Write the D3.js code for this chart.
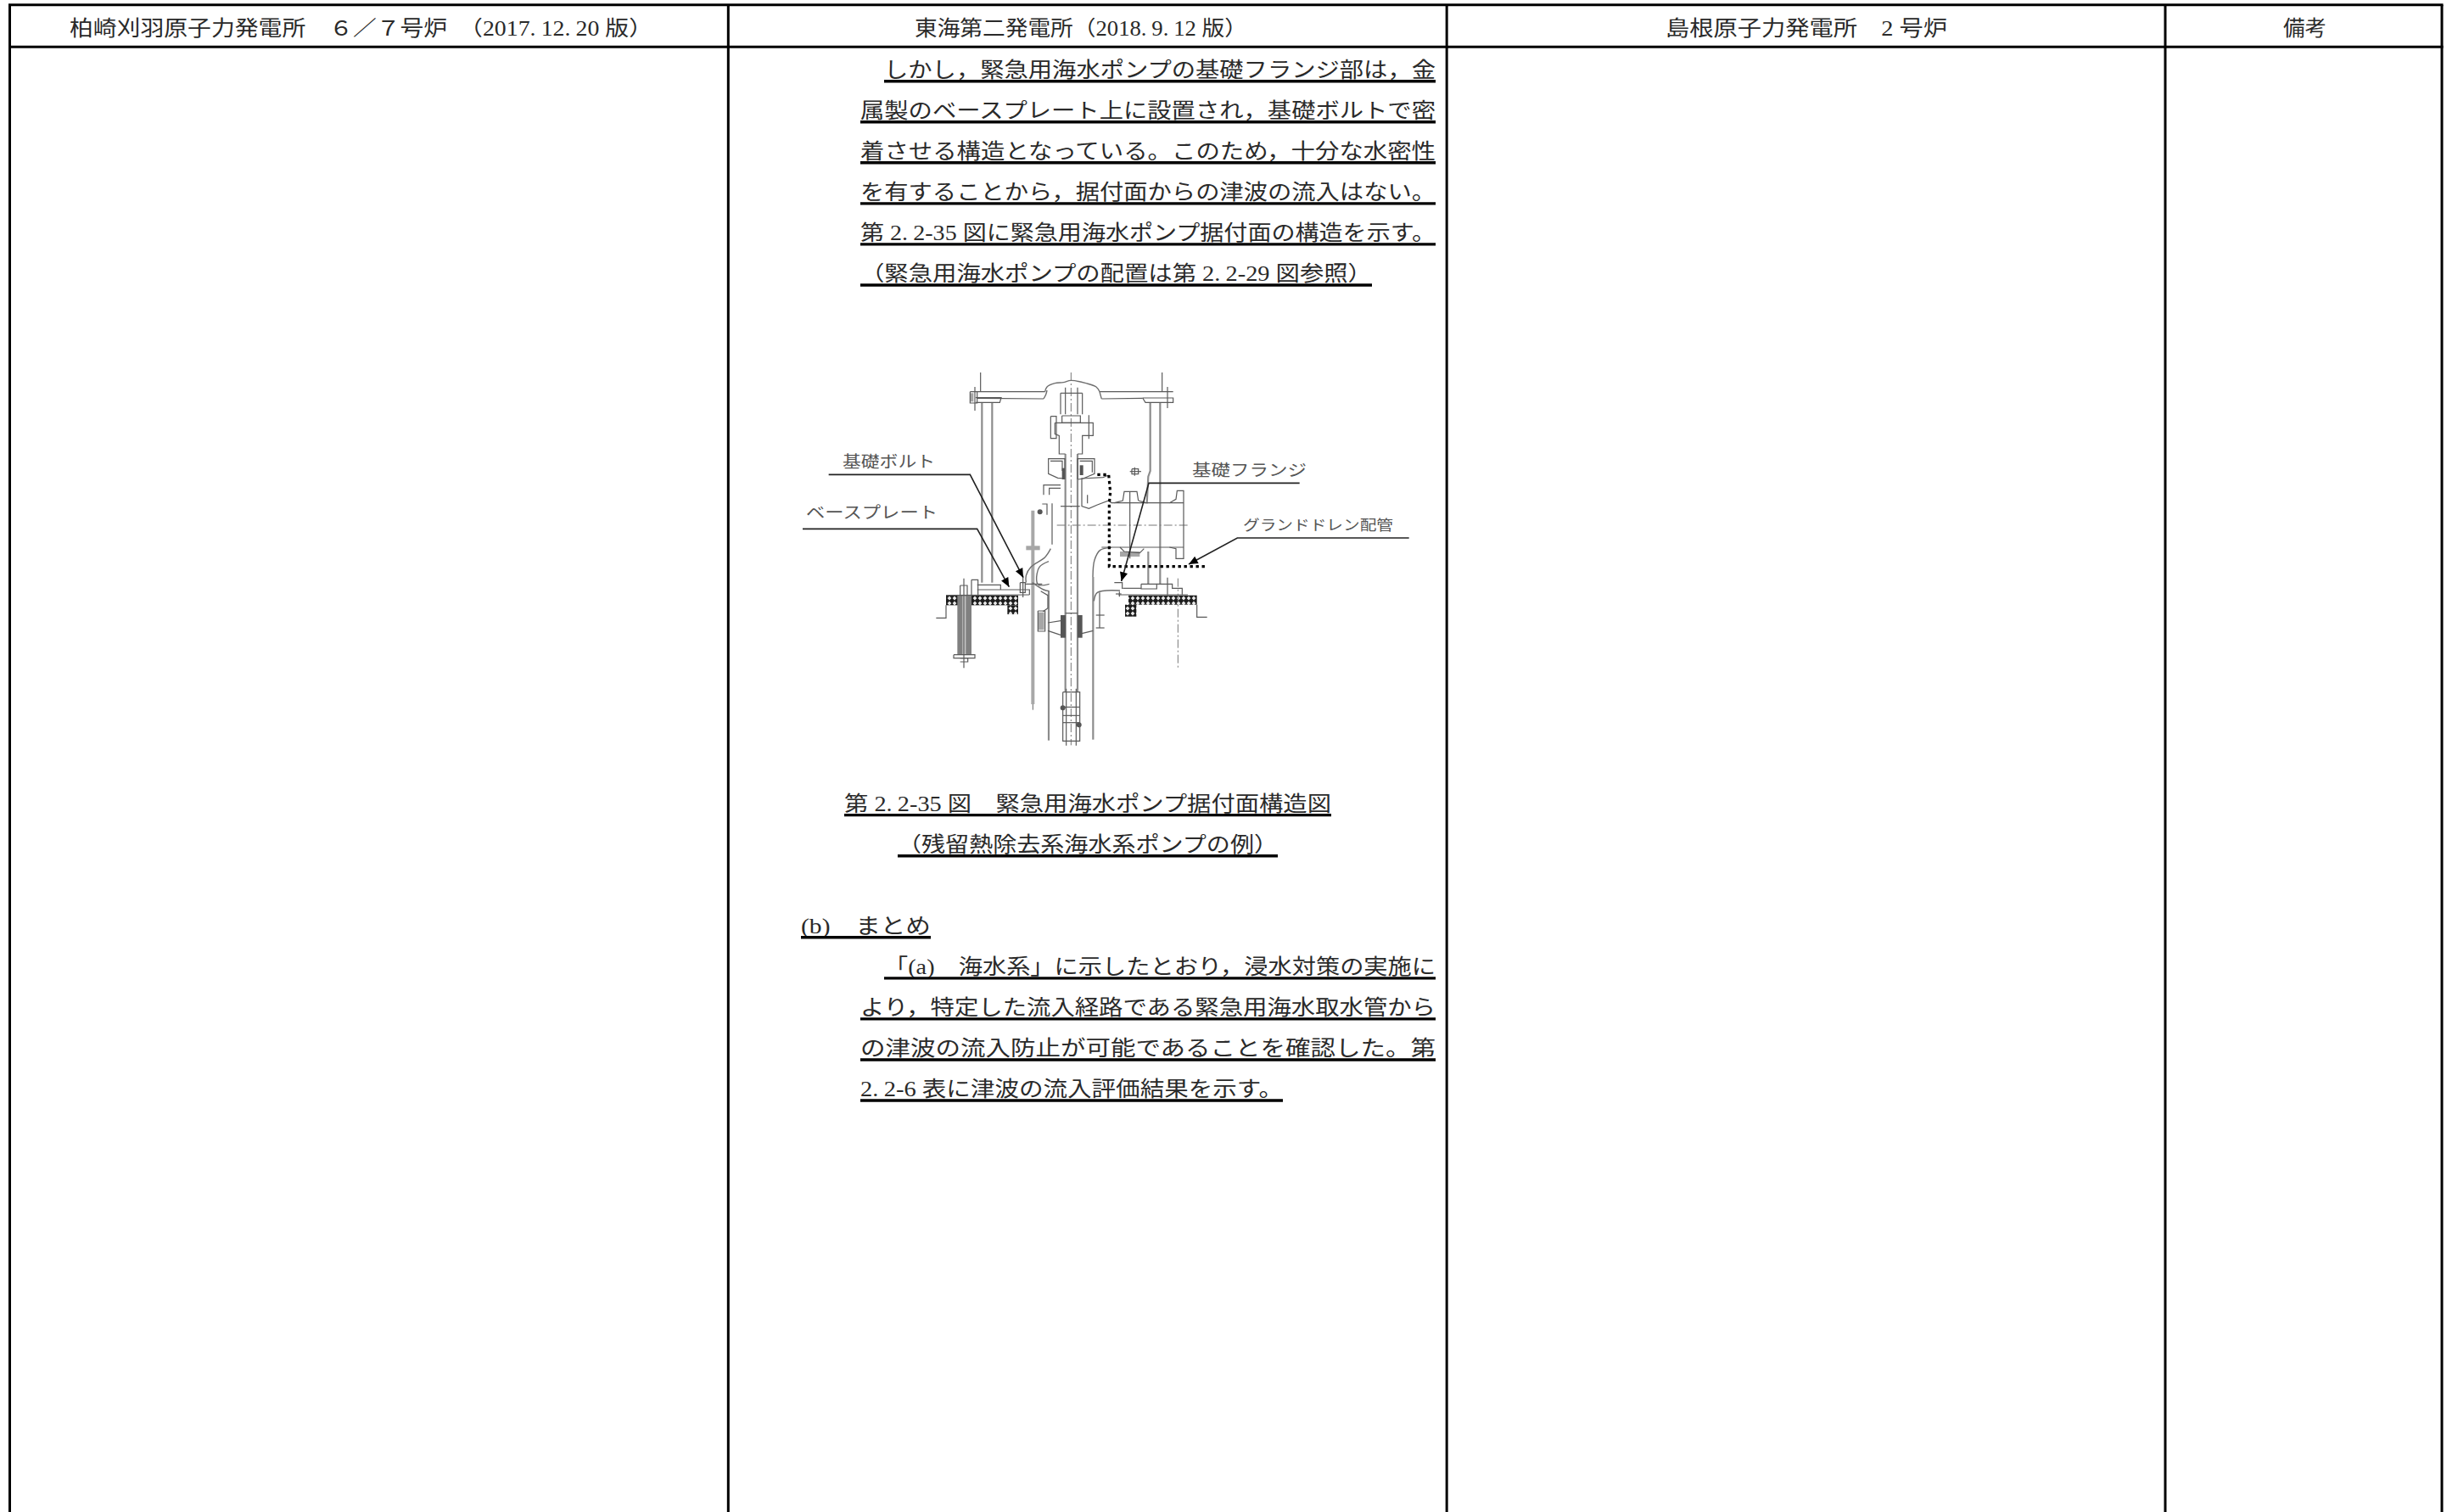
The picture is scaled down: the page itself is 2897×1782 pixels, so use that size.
<!DOCTYPE html>
<html lang="ja">
<head>
<meta charset="utf-8">
<style>
  html, body { margin: 0; background: #fff; overflow: hidden; }
  svg { display: block; }
</style>
</head>
<body>
<div id="page"></div>
<script src="https://cdn.jsdelivr.net/npm/d3@7"></script>
<script>
const W = 2897;
const H = 1782;
const FONT = "'Liberation Serif','Noto Sans CJK JP',serif";

// table
const colEdges = [0, 1, 2, 3, 3.385];
const headers = [
  "柏崎刈羽原子力発電所　６／７号炉　（2017.12.20 版）",
  "東海第二発電所（2018.9.12 版）",
  "島根原子力発電所　2 号炉",
  "備考"
];
const headerStart = [82, 1078, 1963, 2691];
const headerEnd = [769, 1470, 2295, 2742];

// text lines of column 2
const bodyLines = [
  "しかし，緊急用海水ポンプの基礎フランジ部は，金",
  "属製のベースプレート上に設置され，基礎ボルトで密",
  "着させる構造となっている。このため，十分な水密性",
  "を有することから，据付面からの津波の流入はない。",
  "第 2.2-35 図に緊急用海水ポンプ据付面の構造を示す。",
  "（緊急用海水ポンプの配置は第 2.2-29 図参照）",
  "第 2.2-35 図　緊急用海水ポンプ据付面構造図",
  "（残留熱除去系海水系ポンプの例）",
  "(b)　まとめ",
  "「(a)　海水系」に示したとおり，浸水対策の実施に",
  "より，特定した流入経路である緊急用海水取水管から",
  "の津波の流入防止が可能であることを確認した。第",
  "2.2-6 表に津波の流入評価結果を示す。"
];
const bodyRows = [0, 1, 2, 3, 4, 5, 18, 19, 21, 22, 23, 24, 25];
const bodyStart = [1042, 1014, 1014, 1014, 1014, 1014, 995, 1058, 944, 1042, 1014, 1014, 1014];
const bodyEnd = [1692, 1692, 1692, 1692, 1692, 1617, 1569, 1506, 1097, 1692, 1692, 1692, 1512];

// figure labels
const figLabels = ["基礎ボルト", "ベースプレート", "基礎フランジ", "グランドドレン配管"];
const figLabelX = [993, 950, 1405, 1465];
const figLabelEnd = [1102, 1105, 1540, 1642];
const figLabelY = [551, 611, 561, 625];
const figLabelSize = [19, 19, 19, 17];

// figure geometry, in drawing units (1/3 px, origin at the top left of the drawing)
const outlines = [
  // head plate
  [[190,125],[455,125]], [[648,125],[908,125]], [[215,148],[450,150]], [[655,150],[800,148]],
  [[210,146],[300,146],[295,163],[210,163]], [[800,147],[908,147],[908,163],[810,163],[800,147]],
  [[227,57],[227,125]], [[869,57],[869,125]], [[207,108],[207,192]], [[888,108],[888,183]],
  [[190,125],[190,165],[215,165],[215,125]],
  // upper coupling
  [[510,130],[587,130]], [[510,130],[510,205]], [[587,130],[587,205]], [[527,110],[527,205]], [[570,110],[570,205]],
  [[515,210],[580,210],[580,235],[515,235],[515,210]],
  [[490,235],[625,235],[625,280],[587,280],[587,345],[570,345]],
  [[490,235],[490,275],[505,280],[505,345],[527,345]],
  [[475,212],[495,212],[495,290],[475,290],[475,212]], [[610,208],[610,292]],
  // seal housing
  [[525,435],[525,362],[467,362],[467,415],[500,430],[525,432]],
  [[570,435],[570,362],[630,362],[630,415],[590,432],[572,435]],
  [[474,370],[516,370],[516,405]], [[578,370],[622,370],[622,410]],
  // pump casing
  [[585,430],[585,530],[610,538],[640,525],[680,510],[690,518]],
  [[585,432],[660,428],[680,420]], [[605,490],[605,520]],
  [[450,490],[450,455],[510,455]], [[470,490],[470,466],[510,466]],
  [[510,530],[578,530]], [[480,520],[480,665]],
  [[445,522],[462,522],[462,560]],
  // discharge nozzle
  [[690,518],[945,518]], [[655,675],[945,675]],
  [[785,510],[780,478],[735,478],[730,510],[700,518]], [[785,510],[812,518]],
  [[895,518],[918,505],[922,475],[945,475],[945,715],[918,715],[918,680],[895,675]],
  [[720,675],[735,690],[790,695],[805,680]], [[755,478],[755,715]],
  [[762,398],[785,398],[785,416],[762,416],[762,398]], [[772,392],[772,422]], [[755,407],[795,407]],
  // left base
  [[215,808],[298,808],[298,825]], [[215,825],[375,825]], [[105,845],[400,843]], [[375,825],[400,825],[400,843]],
  [[155,810],[180,810],[180,845],[155,845],[155,810]], [[195,790],[218,790],[218,845],[195,845],[195,790]],
  [[105,880],[105,925],[70,925]], [[168,785],[168,1102]], [[367,800],[385,800],[385,835],[367,835],[367,800]],
  [[132,1055],[207,1055],[207,1067],[132,1067],[132,1055]], [[155,1067],[182,1067],[182,1080],[155,1080]],
  [[377,775],[377,852]], [[385,805],[445,805]],
  // right base
  [[730,820],[795,820]], [[795,805],[850,805],[850,822],[795,822],[795,805]], [[850,805],[905,805],[905,820],[940,820],[940,843]],
  [[715,843],[960,843]], [[992,878],[992,922],[1028,922]], [[888,782],[888,845]],
  [[705,840],[725,840]], [[718,832],[718,850]], [[700,800],[728,800],[728,822]],
  // lower casing and impeller coupling
  [[648,835],[648,960]], [[635,915],[665,915]], [[635,960],[665,960]], [[440,830],[465,845],[465,890],[448,902]],
  [[527,908],[570,908]], [[465,942],[510,935]], [[465,970],[510,985]], [[585,980],[625,970]],
  [[430,900],[455,900],[455,972],[430,972],[430,900]],
  // foot block
  [[518,1187],[578,1187],[578,1360],[518,1360],[518,1187]], [[518,1240],[578,1240]], [[518,1270],[578,1270]], [[518,1295],[578,1295]],
  [[530,1175],[530,1376]], [[565,1175],[565,1376]]
];
const greyLines = [
  [[232,163],[232,800]], [[268,163],[268,800]],
  [[827,163],[827,405],[820,425],[815,520]], [[820,690],[820,805]], [[862,163],[862,805]],
  [[527,345],[527,1187]], [[570,345],[570,1187]],
  [[468,830],[468,1358]], [[625,780],[625,1355]]
];
const smoothLines = [
  [[455,125],[462,108],[490,95],[520,92],[547,85],[600,95],[636,108],[648,125]],
  [[450,150],[458,135],[462,120]], [[648,125],[652,140],[655,150]],
  [[475,680],[455,710],[405,745],[388,775],[388,800]],
  [[468,725],[435,745],[425,790],[432,808],[470,805]],
  [[690,676],[650,685],[630,720],[624,780]],
  [[628,865],[640,835],[720,828]],
  [[410,800],[450,825],[470,830]]
];
const centerLines = [
  [[547,57],[547,1375]], [[497,597],[960,597]], [[925,785],[925,1100]]
];
const gaugeRod = [[[412,545],[412,1230]]];
const gaugeTip = [[[412,1230],[412,1250]]];
const darkBands = [[510,915,18,80], [570,915,17,80], [515,395,10,40], [578,385,12,35]];
const lightBands = [[388,670,49,15], [720,690,70,18], [432,905,20,62], [190,130,12,30]];
const concrete = [
  [105,845,255,35], [322,880,38,32], [750,845,242,33], [738,878,40,42]
];
const boltBody = [[145,845,50,210]];
const boltCore = [[163,845,12,210]];
const footBolts = [[518,1243], [575,1303], [437,550]];

const drainPipe = [[640,418],[680,418],[686,480],[682,520],[682,743],[1030,743]];

const leaderBolt = [[-310,418],[190,418],[378,782]];
const leaderPlate = [[-402,610],[215,610],[328,815]];
const leaderFlange = [[1355,448],[822,448],[725,795]];
const leaderDrain = [[1742,642],[1135,642],[963,735]];

const svg = d3.select("#page").append("svg").attr("width", W).attr("height", H);
svg.append("rect").attr("width", W).attr("height", H).attr("fill", "#fff");

// column and row scales
const colX = d3.scaleLinear().domain([0, 3.385]).range([11.5, 2878]);
const rowY = d3.scaleLinear().domain([0, 25]).range([95.7, 1297]);
const topY = 5.7;
const headY = 55.3;

// drawing scales
const sx = d3.scaleLinear().domain([0, 960]).range([1080, 1400]);
const sy = d3.scaleLinear().domain([0, 720]).range([420, 660]);
const line = d3.line().x(d => sx(d[0])).y(d => sy(d[1]));
const curve = d3.line().x(d => sx(d[0])).y(d => sy(d[1])).curve(d3.curveCatmullRom);

// half width period: the digit after it gets a small shift
function fillText(sel) {
  sel.each(function(d) {
    const t = d3.select(this);
    d.split(/(?<=\.)(?=\d)/).forEach((part, i) => {
      t.append("tspan").attr("dx", i ? "0.22em" : null).text(part);
    });
  });
}

// Table
const table = svg.append("g").attr("stroke", "#000").attr("stroke-width", 3);
table.selectAll("line.col").data(colEdges).join("line")
  .attr("class", "col")
  .attr("x1", d => colX(d)).attr("x2", d => colX(d))
  .attr("y1", topY).attr("y2", H);
table.selectAll("line.row").data([topY, headY]).join("line")
  .attr("class", "row")
  .attr("x1", colX(0) - 1.5).attr("x2", colX(3.385) + 1.5)
  .attr("y1", d => d).attr("y2", d => d);

svg.append("g").selectAll("text").data(headers).join("text")
  .attr("x", (d, i) => headerStart[i])
  .attr("y", 41.5)
  .attr("font-family", FONT)
  .attr("font-size", 24.5)
  .attr("fill", "#2a2a2a")
  .attr("textLength", (d, i) => headerEnd[i] - headerStart[i])
  .attr("lengthAdjust", "spacingAndGlyphs")
  .call(fillText);

// Text body with underlines
const body = svg.append("g");
body.selectAll("text").data(bodyLines).join("text")
  .attr("x", (d, i) => bodyStart[i])
  .attr("y", (d, i) => rowY(bodyRows[i]) - 5)
  .attr("font-family", FONT)
  .attr("font-size", 24.5)
  .attr("fill", "#2a2a2a")
  .attr("textLength", (d, i) => bodyEnd[i] - bodyStart[i])
  .attr("lengthAdjust", "spacingAndGlyphs")
  .call(fillText);
body.selectAll("line").data(bodyLines).join("line")
  .attr("x1", (d, i) => bodyStart[i])
  .attr("x2", (d, i) => bodyEnd[i])
  .attr("y1", (d, i) => rowY(bodyRows[i]))
  .attr("y2", (d, i) => rowY(bodyRows[i]))
  .attr("stroke", "#000")
  .attr("stroke-width", 3.4);

// Figure
const defs = svg.append("defs");
const hatch = defs.append("pattern")
  .attr("id", "hatch").attr("patternUnits", "userSpaceOnUse")
  .attr("width", 6).attr("height", 6);
hatch.append("rect").attr("width", 6).attr("height", 6).attr("fill", "#1c1c1c");
hatch.append("path").attr("d", "M3 0.6L5.4 3L3 5.4L0.6 3Z").attr("fill", "#e8e8e8");

const fig = svg.append("g").attr("fill", "none");

function rects(data, fill) {
  fig.append("g").selectAll("rect").data(data).join("rect")
    .attr("x", d => sx(d[0]))
    .attr("y", d => sy(d[1]))
    .attr("width", d => sx(d[0] + d[2]) - sx(d[0]))
    .attr("height", d => sy(d[1] + d[3]) - sy(d[1]))
    .attr("fill", fill);
}
function paths(data, gen, color, width, dash) {
  fig.append("g").selectAll("path").data(data).join("path")
    .attr("d", gen)
    .attr("stroke", color)
    .attr("stroke-width", width)
    .attr("stroke-dasharray", dash || null);
}

rects(concrete, "url(#hatch)");
rects(boltBody, "#808080");
rects(boltCore, "#c8c8c8");
rects(lightBands, "#a6a6a6");
paths(greyLines, line, "#8c8c8c", 2.2);
paths(gaugeRod, line, "#a8a8a8", 4);
paths(gaugeTip, line, "#666", 1);
paths(centerLines, line, "#777", 1, "10 3 2 3");
paths(outlines, line, "#5a5a5a", 1.2);
paths(smoothLines, curve, "#6e6e6e", 1.4);
rects(darkBands, "#555");

fig.append("g").selectAll("circle").data(footBolts).join("circle")
  .attr("cx", d => sx(d[0])).attr("cy", d => sy(d[1])).attr("r", 3)
  .attr("fill", "#555");

// Drain pipe, thick dotted
paths([drainPipe], line, "#000", 3.2, "3.4 3.6");

// Leaders with filled arrow heads
const leaders = [leaderBolt, leaderPlate, leaderFlange, leaderDrain];
paths(leaders, line, "#222", 1.6);
fig.append("g").selectAll("path.head").data(leaders).join("path")
  .attr("class", "head")
  .attr("fill", "#000")
  .attr("d", d => {
    const tip = d[d.length - 1];
    const from = d[d.length - 2];
    const a = Math.atan2(tip[1] - from[1], tip[0] - from[0]);
    const back = [tip[0] - 32 * Math.cos(a), tip[1] - 32 * Math.sin(a)];
    const side = [-14 * Math.sin(a), 14 * Math.cos(a)];
    return line([tip, [back[0] + side[0], back[1] + side[1]], [back[0] - side[0], back[1] - side[1]], tip]) + "Z";
  });

svg.append("g").selectAll("text").data(figLabels).join("text")
  .attr("x", (d, i) => figLabelX[i])
  .attr("y", (d, i) => figLabelY[i])
  .attr("font-family", FONT)
  .attr("font-size", (d, i) => figLabelSize[i])
  .attr("fill", "#555")
  .attr("textLength", (d, i) => figLabelEnd[i] - figLabelX[i])
  .attr("lengthAdjust", "spacingAndGlyphs")
  .text(d => d);
</script>
</body>
</html>
